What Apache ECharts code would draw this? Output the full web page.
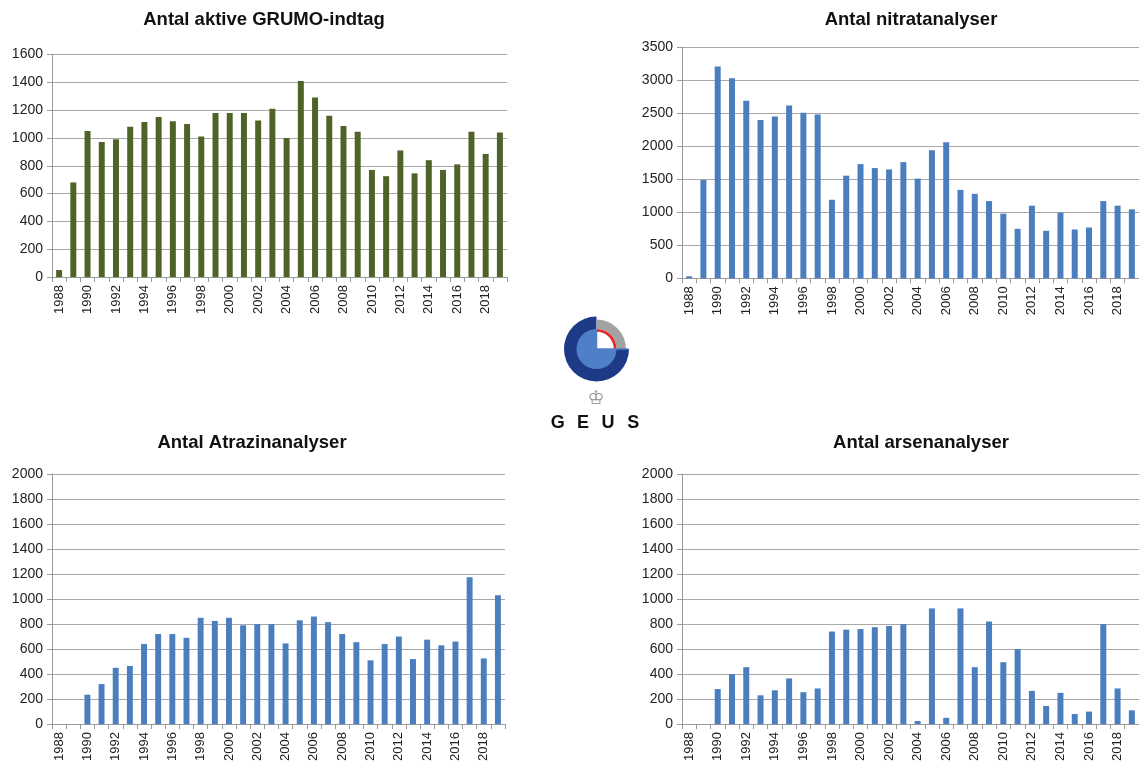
<!DOCTYPE html>
<html>
<head>
<meta charset="utf-8">
<script src="https://cdn.jsdelivr.net/npm/echarts@6/dist/echarts.min.js"></script>
<style>
html,body{margin:0;padding:0;background:#fff;}
#c{width:1139px;height:764px;}
</style>
</head>
<body>
<div id="c"></div>
<script>
const years = ['1988','1989','1990','1991','1992','1993','1994','1995','1996','1997','1998','1999','2000','2001','2002','2003','2004','2005','2006','2007','2008','2009','2010','2011','2012','2013','2014','2015','2016','2017','2018','2019'];
const grumo = [50,680,1050,970,990,1080,1115,1150,1120,1100,1010,1180,1180,1180,1125,1210,1000,1410,1290,1160,1085,1045,770,725,910,745,840,770,810,1045,885,1040];
const nitrat = [30,1490,3210,3030,2690,2400,2450,2620,2510,2480,1190,1555,1730,1670,1650,1760,1510,1940,2060,1340,1280,1170,980,750,1100,720,995,740,770,1170,1100,1045];
const atrazin = [0,0,235,320,450,465,640,720,720,690,850,825,850,790,800,800,645,830,860,815,720,655,510,640,700,520,675,630,660,1175,525,1030];
const arsen = [0,0,280,400,455,230,270,365,255,285,740,755,760,775,785,800,25,925,50,925,455,820,495,600,265,145,250,80,100,800,285,110];
const titles = ['Antal aktive GRUMO-indtag','Antal nitratanalyser','Antal Atrazinanalyser','Antal arsenanalyser'];
const yMax = [1600,3500,2000,2000];
const yStep = [200,500,200,200];
const logoLetters = ['G','E','U','S'];

const FONT = '"Liberation Sans", Arial, sans-serif';
const green = '#4f6228';
const blue = '#4a7ebf';
const gridDefs = [
  {left:52, top:54.5, width:455, height:222.5},
  {left:682, top:47.3, width:462, height:231},
  {left:52, top:474, width:453, height:253.3},
  {left:682, top:474, width:465, height:253.3}
];
const seriesData = [grumo, nitrat, atrazin, arsen];
const colors = [green, blue, blue, blue];
const titlePos = [[264,20],[911,20],[252,443],[921,443]];

const chart = echarts.init(document.getElementById('c'), null, {renderer:'canvas'});
const LX = 596.5, LY = 349;
const option = {
  backgroundColor:'#fff',
  animation:false,
  grid: gridDefs.map(g => Object.assign({containLabel:false}, g)),
  xAxis: gridDefs.map((g,i) => ({
    type:'category', gridIndex:i, data:years,
    boundaryGap:true,
    axisLine:{show:true, lineStyle:{color:'#9a9a9a', width:1}},
    axisTick:{show:true, interval:0, length:5, lineStyle:{color:'#9a9a9a'}},
    axisLabel:{interval:1, rotate:90, margin:8, color:'#222', fontSize:13, fontFamily:FONT},
    splitLine:{show:false}
  })),
  yAxis: gridDefs.map((g,i) => ({
    type:'value', gridIndex:i, min:0, max:yMax[i], interval:yStep[i],
    axisLine:{show:true, lineStyle:{color:'#9a9a9a', width:1}},
    axisTick:{show:true, length:5, lineStyle:{color:'#9a9a9a'}},
    axisLabel:{margin:9, color:'#222', fontSize:14, fontFamily:FONT, formatter: v => String(v)},
    splitLine:{show:true, lineStyle:{color:'#a8a8a8', width:1.2}}
  })),
  series: seriesData.map((d,i) => ({
    type:'bar', xAxisIndex:i, yAxisIndex:i, data:d,
    barWidth:'42%', itemStyle:{color:colors[i]}
  })),
  graphic: [
    ...titles.map((t,i) => ({
      type:'text', x:titlePos[i][0], y:titlePos[i][1],
      style:{text:t, font:'bold 18.5px ' + FONT, fill:'#111', textAlign:'center', textVerticalAlign:'middle'}
    })),
    // GEUS logo
    {type:'sector', shape:{cx:LX, cy:LY, r:32.5, r0:0, startAngle:0, endAngle:Math.PI*1.5, clockwise:true}, style:{fill:'#1d3a86'}},
    {type:'sector', shape:{cx:LX, cy:LY, r:29.5, r0:20, startAngle:-Math.PI/2, endAngle:0, clockwise:true}, style:{fill:'#a3a3a3'}},
    {type:'sector', shape:{cx:LX, cy:LY, r:20, r0:0, startAngle:0, endAngle:Math.PI*1.5, clockwise:true}, style:{fill:'#4f7fc6'}},
    {type:'sector', shape:{cx:LX, cy:LY, r:20, r0:17.3, startAngle:-Math.PI/2, endAngle:0, clockwise:true}, style:{fill:'#e8262a'}},
    {type:'line', shape:{x1:LX, y1:LY, x2:LX+32, y2:LY}, style:{stroke:'#4f7fc6', lineWidth:1.5}},
    {type:'line', shape:{x1:LX, y1:LY, x2:LX, y2:LY-20}, style:{stroke:'#4f7fc6', lineWidth:1.5}},
    {type:'text', x:596, y:399, style:{text:'♔', font:'19px "DejaVu Sans"', fill:'#8a8a8a', textAlign:'center', textVerticalAlign:'middle'}},
    ...logoLetters.map((ch,k) => ({
      type:'text', x:557.7 + k*25.2, y:423.5,
      style:{text:ch, font:'bold 18px ' + FONT, fill:'#111', textAlign:'center', textVerticalAlign:'middle'}
    }))
  ]
};
chart.setOption(option);
</script>
</body>
</html>
